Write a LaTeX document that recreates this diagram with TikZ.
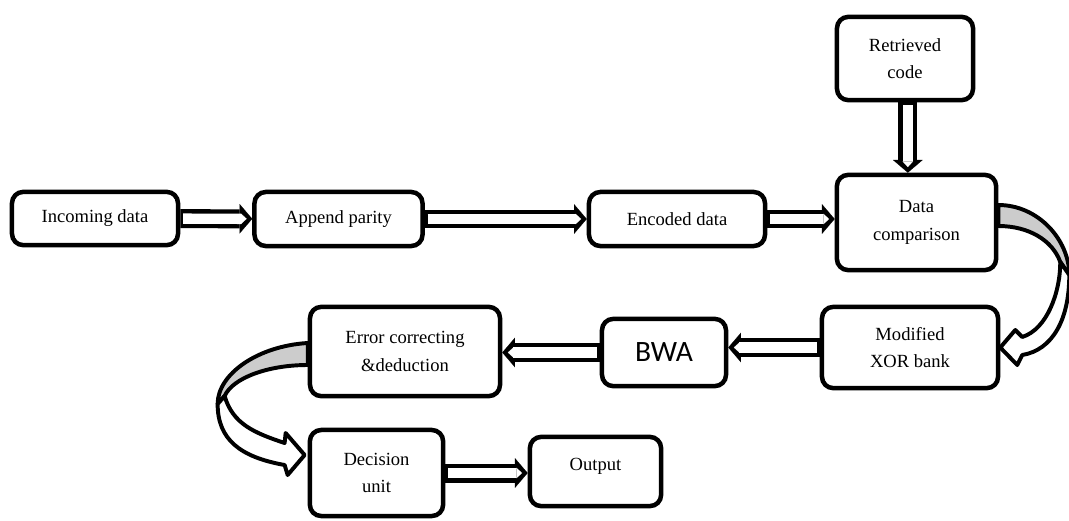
\documentclass[tikz,border=0pt]{standalone}
\usepackage{fontspec}
\setmainfont{Liberation Serif}
\newfontfamily\bwafont{Carlito}
\usetikzlibrary{arrows.meta,calc}

\begin{document}
\begin{tikzpicture}[
    x=0.025cm, y=-0.025cm,
    box/.style={rectangle, draw, line width=3.2pt, rounded corners=8pt, align=center,
        font=\fontsize{13.2}{19.5}\selectfont},
    arrow/.style={line width=13.5pt, -{Triangle[length=9pt, width=21pt, line width=0.1pt]},
        postaction={draw=white, line width=7.4pt, shorten <=2pt, shorten >=4pt,
            -{Triangle[length=4pt, width=7.4pt, line width=0.1pt]}}},
    curvearrow/.style={draw=black, line width=2.8pt, line join=round}
]
    \useasboundingbox (0,0) rectangle (1069,520);

    % obere Reihe
    \node[box, minimum width=4.15cm, minimum height=1.33cm] (incoming) at (95,218.5) {Incoming data};
    \node[box, minimum width=4.2cm, minimum height=1.35cm] (parity) at (338.5,219) {Append parity};
    \node[box, minimum width=4.4cm, minimum height=1.35cm] (encoded) at (677,219) {Encoded data};
    \node[box, minimum width=3.98cm, minimum height=2.38cm] (compare) at (916.5,222.5) {Data\\comparison};
    \node[box, minimum width=3.4cm, minimum height=2.08cm] (retrieved) at (905,58.5) {Retrieved\\code};

    % mittlere Reihe
    \node[box, minimum width=4.4cm, minimum height=2.03cm] (xor) at (910,347.5) {Modified\\XOR bank};
    \node[box, minimum width=3.1cm, minimum height=1.68cm, font=\bwafont\fontsize{21}{24}\selectfont] (bwa) at (664,352.5) {BWA};
    \node[box, minimum width=4.75cm, minimum height=2.23cm] (errcorr) at (405,351.5) {Error correcting\\\&deduction};

    % untere Reihe
    \node[box, minimum width=3.33cm, minimum height=2.15cm] (decision) at (376.5,473) {Decision\\unit};
    \node[box, minimum width=3.28cm, minimum height=1.73cm] (output) at (595.5,471.5) {\raisebox{10pt}{Output}};

    % Pfeile
    \draw[arrow] (incoming) -- (parity);
    \draw[arrow] (parity.east) -- (encoded.west);
    \draw[arrow] (encoded.east) -- (encoded.east -| compare.west);
    \draw[arrow] ([xshift=2pt]retrieved.south) -- ([xshift=2pt]retrieved.south |- compare.north);
    \draw[arrow] (xor.west) -- (xor.west -| bwa.east);
    \draw[arrow] (bwa.west) -- (bwa.west -| errcorr.east);
    \draw[arrow] (decision.east) -- (decision.east -| output.west);

    % gebogener Pfeil rechts
    \coordinate (rout) at ($(xor.east)+(69,-72.5)$);
    \coordinate (rin) at ($(xor.east)+(60,-85.5)$);
    \draw[curvearrow, fill=black!20] ($(compare.east)+(0,-17.5)$) .. controls +(40,0) and +(0,-35) .. (rout)
        -- (rin) .. controls +(-8,-22) and +(30,0) .. ($(compare.east)+(0,3.5)$) -- cycle;
    \draw[curvearrow, fill=white] (rout) .. controls +(0,45) and +(30,-5) .. ($(xor.east)+(22,7.5)$)
        -- ($(xor.east)+(17,17.5)$) -- (xor.east) -- ($(xor.east)+(15,-17.5)$)
        -- ($(xor.east)+(22,-10.5)$) .. controls +(25,-8) and +(0,30) .. (rin) -- cycle;

    % gebogener Pfeil links
    \coordinate (lout) at ($(decision.west)+(-90,-69)$);
    \coordinate (lin) at ($(decision.west)+(-83,-77)$);
    \draw[curvearrow, fill=black!20] ($(errcorr.west)+(0,-8.5)$) .. controls +(-50,3) and +(0,-30) .. (lout)
        -- (lin) .. controls +(8,-18) and +(-40,0) .. ($(errcorr.west)+(0,13.5)$) -- cycle;
    \draw[curvearrow, fill=white] (lin) .. controls +(8,28) and +(-30,-10) .. ($(decision.west)+(-23,-30)$)
        -- ($(decision.west)+(-22,-40)$) -- ($(decision.west)+(-3,-18)$) -- ($(decision.west)+(-20,2)$)
        -- ($(decision.west)+(-23,-8)$) .. controls +(-45,-8) and +(0,35) .. (lout) -- cycle;
\end{tikzpicture}
\end{document}
